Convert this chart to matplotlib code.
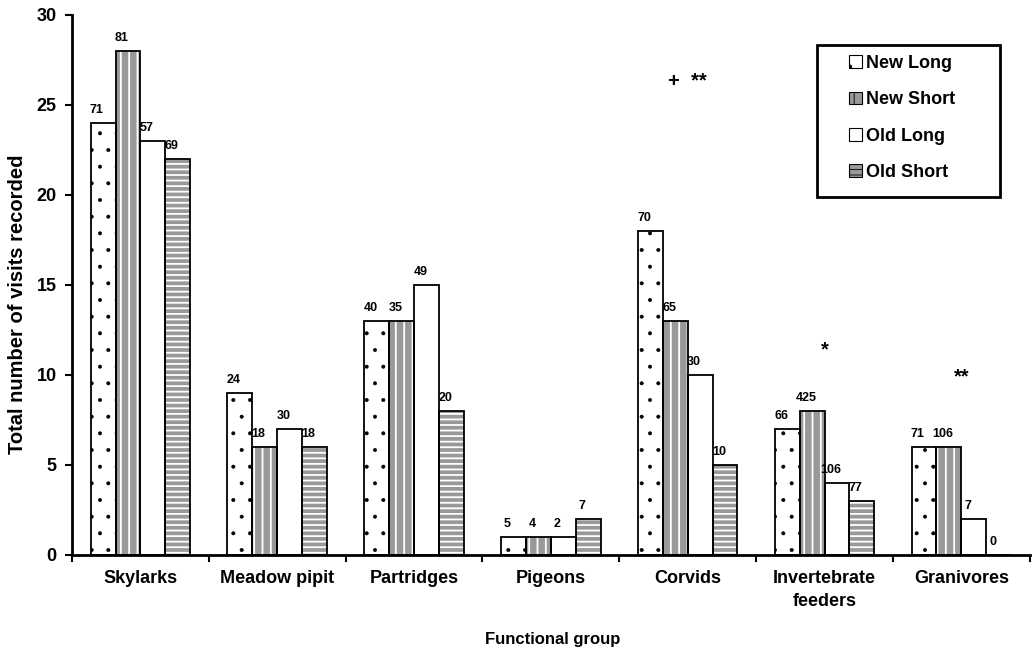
import matplotlib
matplotlib.use('Agg')
import matplotlib.pyplot as plt
import numpy as np
from matplotlib.patches import Patch, Rectangle

plt.rcParams['font.family'] = ['Liberation Sans', 'DejaVu Sans']
plt.rcParams['font.weight'] = 'bold'

groups = ['Skylarks', 'Meadow pipit', 'Partridges', 'Pigeons', 'Corvids',
          'Invertebrate\nfeeders', 'Granivores']
series = ['New Long', 'New Short', 'Old Long', 'Old Short']

new_long = [24, 9, 13, 1, 18, 7, 6]
new_short = [28, 6, 13, 1, 13, 8, 6]
old_long = [23, 7, 15, 1, 10, 4, 2]
old_short = [22, 6, 8, 2, 5, 3, 0]

lbl_new_long = [71, 24, 40, 5, 70, 66, 71]
lbl_new_short = [81, 18, 35, 4, 65, 425, 106]
lbl_old_long = [57, 30, 49, 2, 30, 106, 7]
lbl_old_short = [69, 18, 20, 7, 10, 77, 0]

# significance marks: (group index, y, text)
sig_marks = [(4, 26.3, '+  **'), (5, 11.4, '*'), (6, 9.9, '**')]

values = [new_long, new_short, old_long, old_short]
labels = [lbl_new_long, lbl_new_short, lbl_old_long, lbl_old_short]
styles = [
    dict(face='white', hatch='.', hcolor='black', hlw=0.4),
    dict(face='#999999', hatch='||', hcolor='white', hlw=1.3),
    dict(face='white', hatch='', hcolor='white', hlw=1.0),
    dict(face='#999999', hatch='---', hcolor='white', hlw=1.3),
]

fig = plt.figure(figsize=(10.32, 6.55), dpi=100)
ax = fig.add_axes([0.0698, 0.1527, 0.928, 0.8244])

x = np.arange(len(groups))
w = 0.182
offsets = (np.arange(4) - 1.5) * w

for vals, lbls, st, off in zip(values, labels, styles, offsets):
    with plt.rc_context({'hatch.linewidth': st['hlw']}):
        bars = ax.bar(x + off, vals, w, color=st['face'], hatch=st['hatch'],
                      edgecolor=st['hcolor'], linewidth=0, zorder=2)
        for b in bars:
            if hasattr(b, 'set_hatch_linewidth'):
                b.set_hatch_linewidth(st['hlw'])
    ax.bar(x + off, vals, w, fill=False, edgecolor='black', linewidth=1.3, zorder=3)
    for xi, v, lb in zip(x + off, vals, lbls):
        ax.annotate(str(lb), (xi - 0.045, v), xytext=(0, 5), textcoords='offset points',
                    ha='center', va='bottom', fontsize=9, fontweight='bold')

for gi, y, txt in sig_marks:
    ax.text(x[gi], y, txt, ha='center', va='center', fontsize=14.5, fontweight='bold')

ax.set_xlim(-0.5, len(groups) - 0.5)
ax.set_ylim(0, 30)
ax.set_yticks(range(0, 31, 5))
ax.set_xticks(np.arange(len(groups) + 1) - 0.5)
ax.set_xticklabels([])
ax.set_xticks(x, minor=True)
ax.set_xticklabels(groups, minor=True, fontsize=13, fontweight='bold', linespacing=1.45)
ax.tick_params(axis='x', which='minor', length=0, pad=11)
ax.tick_params(axis='x', which='major', length=5, width=1.5, direction='out')
ax.tick_params(axis='y', length=5, width=1.5, direction='out', labelsize=13, pad=6)
for t in ax.get_yticklabels():
    t.set_fontweight('bold')

for s in ['top', 'right']:
    ax.spines[s].set_visible(False)
for s in ['left', 'bottom']:
    ax.spines[s].set_linewidth(2)

ax.set_ylabel('Total number of visits recorded', fontsize=14.5, fontweight='bold')
ax.yaxis.set_label_coords(-0.047, 0.465)
ax.set_xlabel('Functional group', fontsize=12, fontweight='bold')
ax.xaxis.set_label_coords(0.502, -0.142)

# legend: frame drawn separately, entries placed inside it
fig.patches.append(Rectangle((817 / 1032, 1 - 197 / 655), 183 / 1032, 152 / 655,
                             transform=fig.transFigure, fill=False,
                             edgecolor='black', linewidth=2, zorder=5))
handles = [Patch(facecolor=st['face'], hatch=st['hatch'], edgecolor='black', linewidth=0.8)
           for st in styles]
with plt.rc_context({'hatch.linewidth': 0.6}):
    leg = fig.legend(handles, series, loc='center', bbox_to_anchor=(902 / 1032, 1 - 118 / 655),
                     fontsize=13, frameon=False,
                     handlelength=0.7, handleheight=0.7, handletextpad=0.25,
                     labelspacing=1.07, borderpad=0)
for t in leg.get_texts():
    t.set_fontweight('bold')
leg._legend_box.align = 'left'

fig.savefig('out.png', dpi=100)
